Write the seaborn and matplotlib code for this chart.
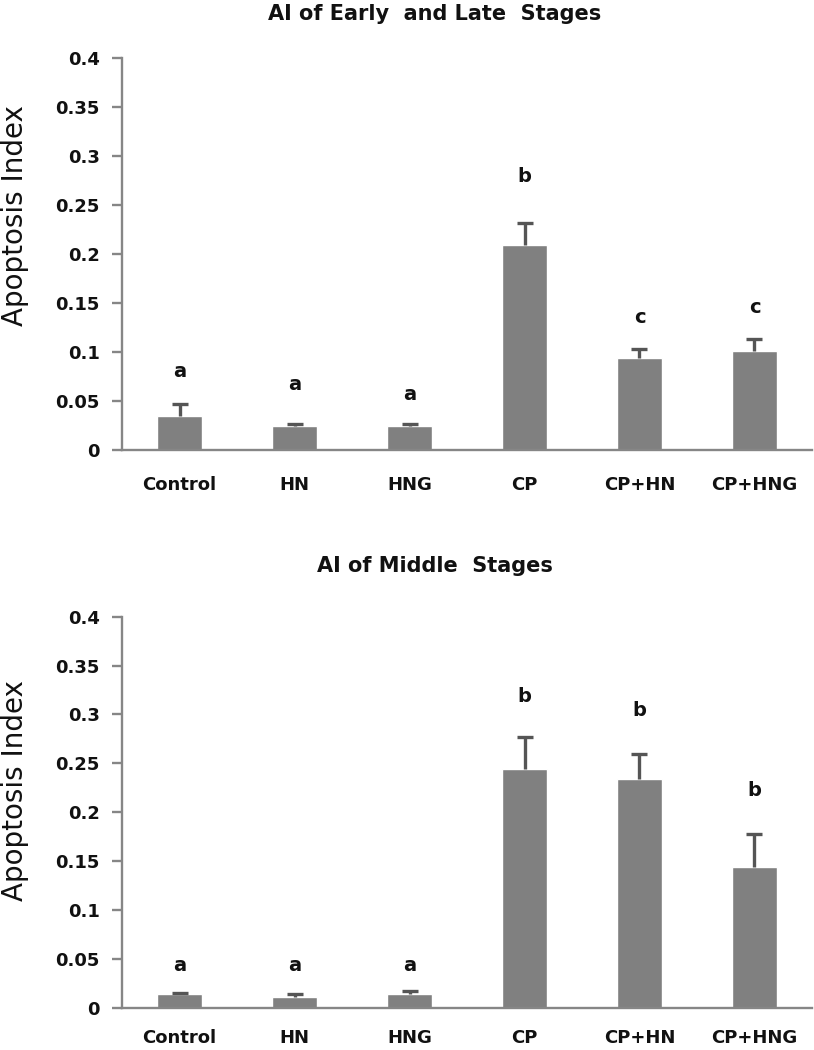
import numpy as np
import pandas as pd
import matplotlib
matplotlib.use("Agg")
import matplotlib.pyplot as plt
import seaborn as sns

groups = ["Control", "HN", "HNG", "CP", "CP+HN", "CP+HNG"]

# AI of early and late stages
early_late_mean = [0.035, 0.025, 0.025, 0.209, 0.094, 0.101]
early_late_err = [0.012, 0.002, 0.002, 0.023, 0.009, 0.012]
early_late_letters = ["a", "a", "a", "b", "c", "c"]
early_late_letter_y = [0.080, 0.067, 0.057, 0.279, 0.135, 0.145]

# AI of middle stages
middle_mean = [0.014, 0.011, 0.014, 0.244, 0.234, 0.144]
middle_err = [0.001, 0.003, 0.003, 0.033, 0.026, 0.034]
middle_letters = ["a", "a", "a", "b", "b", "b"]
middle_letter_y = [0.043, 0.043, 0.043, 0.318, 0.304, 0.222]

yticks = [0, 0.05, 0.1, 0.15, 0.2, 0.25, 0.3, 0.35, 0.4]
ytick_labels = ["0", "0.05", "0.1", "0.15", "0.2", "0.25", "0.3", "0.35", "0.4"]

sns.set_theme(style="white")
plt.rcParams["font.family"] = ["DejaVu Sans"]

fig = plt.figure(figsize=(8.14, 10.5), dpi=100)
ax_top = fig.add_axes([0.150, 0.5714, 0.8475, 0.3734])
ax_bot = fig.add_axes([0.150, 0.0403, 0.8475, 0.3724])

panels = [
    (ax_top, early_late_mean, early_late_err, early_late_letters, early_late_letter_y,
     "AI of Early  and Late  Stages", 0.9867, 0.7950, 13),
    (ax_bot, middle_mean, middle_err, middle_letters, middle_letter_y,
     "AI of Middle  Stages", 0.4610, 0.2470, 9),
]

text_color = "#111111"

for ax, mean, err, letters, letter_y, title, title_y, ylab_y, xpad in panels:
    df = pd.DataFrame({"group": groups, "value": mean})
    sns.barplot(data=df, x="group", y="value", color="#808080", saturation=1,
                width=0.39, errorbar=None, ax=ax)
    xs = np.arange(len(groups))
    eb = ax.errorbar(xs, mean, yerr=[np.zeros(len(err)), err], fmt="none",
                     ecolor="#555555", elinewidth=2.4, capsize=6, capthick=2.4)
    # upper caps in black, hide the caps sitting on the bar tops
    for cap in eb[1]:
        if np.allclose(cap.get_ydata(), mean):
            cap.set_visible(False)
        else:
            cap.set_color("#111111")

    for x, ly, lt in zip(xs, letter_y, letters):
        ax.text(x, ly, lt, ha="center", va="center", fontsize=14,
                fontweight="bold", color=text_color)

    ax.set_xlim(-0.5, 5.5)
    ax.set_ylim(0, 0.4)
    ax.set_yticks(yticks)
    ax.set_yticklabels(ytick_labels, fontsize=13, fontweight="bold", color=text_color)
    ax.set_xticks(xs)
    ax.set_xticklabels(groups, fontsize=13, fontweight="bold", color=text_color)
    ax.tick_params(axis="y", which="major", left=True, length=7, width=1.7,
                   color="#868686", pad=9)
    ax.tick_params(axis="x", bottom=False, pad=xpad)
    ax.set_xlabel("")
    ax.set_ylabel("")

    for side in ["top", "right"]:
        ax.spines[side].set_visible(False)
    for side in ["left", "bottom"]:
        ax.spines[side].set_color("#868686")
        ax.spines[side].set_linewidth(1.7)

    fig.text(0.534, title_y, title, ha="center", va="center", fontsize=15,
             fontweight="bold", color=text_color)
    fig.text(0.019, ylab_y, "Apoptosis Index", ha="center", va="center",
             rotation=90, fontsize=20, color=text_color)

fig.savefig("out.png", dpi=100, facecolor="white")
